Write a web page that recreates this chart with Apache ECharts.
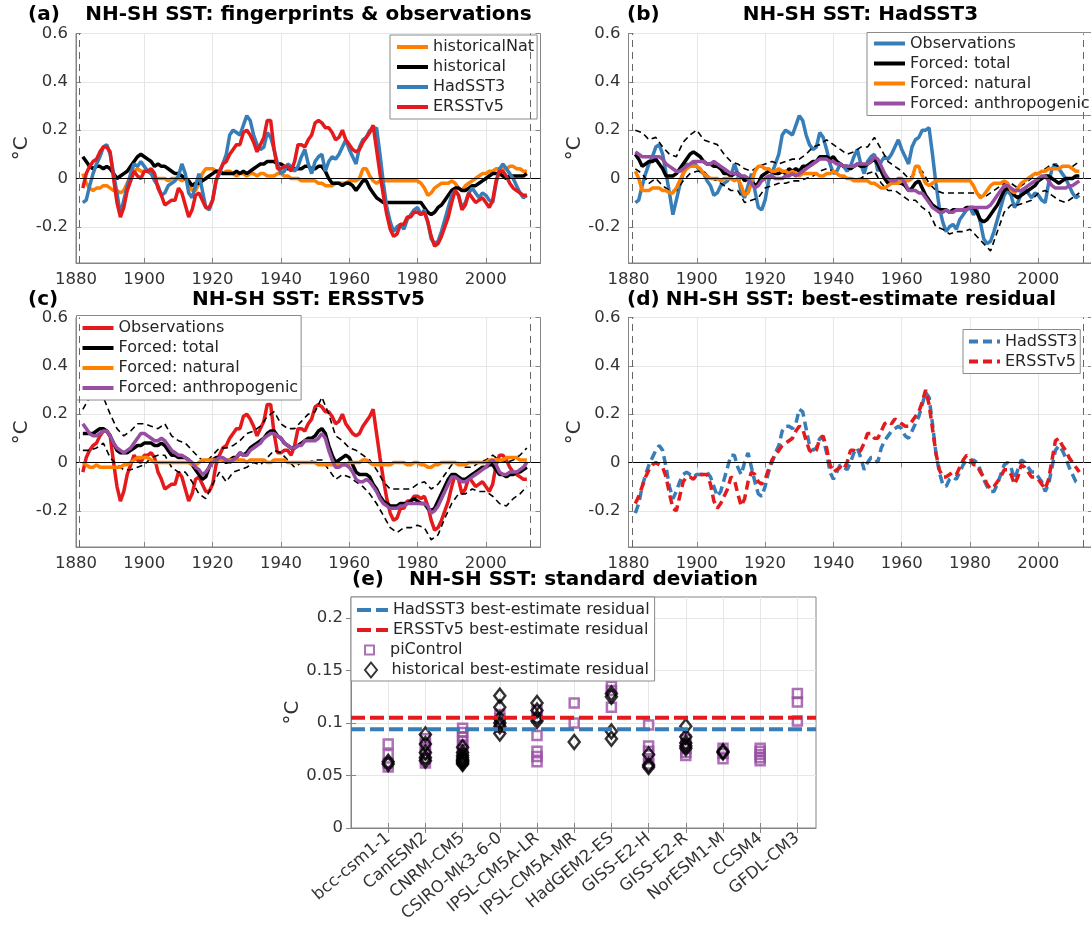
<!DOCTYPE html>
<html><head><meta charset="utf-8">
<script src="https://cdn.jsdelivr.net/npm/echarts@6/dist/echarts.min.js"></script>
<style>html,body{margin:0;padding:0;background:#fff}#c{width:1091px;height:938px}</style>
</head><body><div id="c"></div>
<script>
// ---------------- data ----------------
const START_YEAR = 1882;            // annual series start (1882..2012)
const yearTicks = [1880, 1900, 1920, 1940, 1960, 1980, 2000];
const tempTicks = [-0.2, 0, 0.2, 0.4, 0.6];
const stdTicks = [0, 0.05, 0.1, 0.15, 0.2];
const periodStart = 1881, periodEnd = 2013;

// (a) fingerprints & observations
const hadSST3 = [
 -0.10,-0.09,-0.03,0.02,0.06,0.09,0.13,0.14,
 0.10,0.02,-0.06,-0.15,-0.09,-0.03,0.02,0.06,0.05,0.07,
 0.05,0.03,0.02,-0.01,-0.03,-0.07,-0.06,-0.03,-0.02,-0.01,
 0.01,0.06,0.02,-0.06,-0.08,-0.03,0.02,-0.05,-0.12,-0.13,
 -0.09,-0.01,0.02,0.06,0.10,0.18,0.20,0.19,0.18,0.22,
 0.26,0.24,0.18,0.14,0.12,0.13,0.19,0.17,0.12,0.06,
 0.02,0.03,0.06,0.05,0.03,0.05,0.09,0.12,0.06,0.02,
 0.07,0.09,0.10,0.03,0.07,0.09,0.08,0.10,0.13,0.16,
 0.12,0.09,0.06,0.13,0.16,0.17,0.20,0.20,0.21,0.10,
 -0.02,-0.12,-0.18,-0.22,-0.20,-0.19,-0.21,-0.17,-0.15,-0.13,
 -0.12,-0.15,-0.13,-0.18,-0.25,-0.27,-0.26,-0.22,-0.17,-0.12,
 -0.07,-0.05,-0.07,-0.12,-0.10,-0.06,-0.04,-0.06,-0.08,-0.06,
 -0.07,-0.09,-0.10,-0.02,0.04,0.06,0.04,0.02,0.00,-0.03,
 -0.06,-0.08,-0.07];
const ersstV5 = [
 -0.04,0.02,0.05,0.07,0.08,0.11,0.13,0.13,
 0.11,0.00,-0.10,-0.16,-0.12,-0.05,-0.01,0.03,0.01,0.00,
 0.03,0.03,0.04,0.02,-0.04,-0.07,-0.11,-0.10,-0.09,-0.09,
 -0.04,-0.06,-0.11,-0.16,-0.13,-0.07,-0.06,-0.09,-0.12,-0.12,
 -0.09,-0.01,0.03,0.06,0.07,0.10,0.12,0.14,0.14,0.19,
 0.20,0.18,0.15,0.11,0.14,0.17,0.24,0.24,0.12,0.04,
 0.04,0.05,0.05,0.03,0.07,0.14,0.14,0.13,0.16,0.18,
 0.23,0.24,0.23,0.21,0.21,0.19,0.16,0.17,0.20,0.16,
 0.14,0.12,0.11,0.12,0.15,0.17,0.19,0.22,0.12,0.02,
 -0.07,-0.15,-0.21,-0.24,-0.23,-0.19,-0.19,-0.16,-0.16,-0.14,
 -0.14,-0.15,-0.14,-0.18,-0.24,-0.28,-0.27,-0.24,-0.20,-0.16,
 -0.10,-0.05,-0.07,-0.13,-0.11,-0.06,-0.08,-0.10,-0.09,-0.08,
 -0.10,-0.12,-0.09,-0.01,0.03,0.03,0.01,-0.02,-0.04,-0.05,
 -0.06,-0.07,-0.07];
const historical = [
 0.09,0.07,0.05,0.04,0.05,0.05,0.04,0.05,
 0.04,0.02,0.00,0.01,0.02,0.03,0.05,0.07,0.09,0.10,
 0.09,0.08,0.07,0.05,0.06,0.05,0.05,0.04,0.03,0.02,
 0.02,0.01,0.00,-0.01,-0.03,-0.02,-0.02,-0.01,0.00,0.01,
 0.02,0.03,0.03,0.02,0.02,0.02,0.02,0.03,0.02,0.03,
 0.02,0.03,0.04,0.05,0.06,0.06,0.07,0.07,0.07,0.06,
 0.06,0.05,0.04,0.04,0.04,0.04,0.04,0.05,0.05,0.04,
 0.04,0.05,0.05,0.03,0.00,-0.02,-0.02,-0.02,-0.03,-0.02,
 -0.02,-0.03,-0.05,-0.03,-0.01,-0.01,-0.04,-0.06,-0.08,-0.09,
 -0.10,-0.10,-0.10,-0.10,-0.10,-0.10,-0.10,-0.10,-0.10,-0.10,
 -0.10,-0.10,-0.12,-0.14,-0.15,-0.14,-0.12,-0.11,-0.09,-0.07,
 -0.05,-0.04,-0.04,-0.05,-0.05,-0.04,-0.03,-0.03,-0.02,-0.01,
 0.00,0.01,0.02,0.02,0.02,0.01,0.00,0.01,0.01,0.01,
 0.01,0.01,0.02];
const historicalNat = [
 0.02,-0.02,-0.04,-0.05,-0.04,-0.04,-0.03,-0.03,
 -0.04,-0.05,-0.05,-0.06,-0.05,-0.02,0.01,0.03,0.04,0.03,
 0.03,0.03,0.02,0.00,0.00,0.00,0.00,-0.01,0.00,0.00,
 0.00,-0.01,0.00,-0.02,-0.05,-0.05,-0.02,0.02,0.04,0.04,
 0.04,0.03,0.02,0.02,0.03,0.03,0.02,0.01,0.02,0.02,
 0.01,0.02,0.02,0.01,0.02,0.02,0.01,0.01,0.01,0.02,
 0.02,0.01,0.01,0.00,0.00,0.00,-0.01,-0.01,-0.01,-0.01,
 -0.01,-0.02,-0.02,-0.03,-0.03,-0.03,-0.02,-0.02,-0.02,-0.02,
 -0.01,-0.01,-0.01,0.00,0.04,0.04,0.01,-0.01,-0.02,-0.01,
 -0.01,-0.01,-0.01,-0.01,-0.01,-0.01,-0.01,-0.01,-0.01,-0.01,
 -0.01,-0.02,-0.04,-0.07,-0.06,-0.04,-0.03,-0.02,-0.02,-0.02,
 -0.01,-0.02,-0.04,-0.05,-0.03,-0.02,-0.01,0.00,0.01,0.02,
 0.02,0.03,0.03,0.04,0.04,0.04,0.04,0.05,0.05,0.04,
 0.04,0.03,0.03];

// (b) HadSST3 decomposition
const hadForcedTotal = [
 0.10,0.08,0.05,0.06,0.07,0.07,0.08,0.06,
 0.04,0.01,0.01,0.01,0.02,0.04,0.06,0.08,0.10,0.11,
 0.10,0.09,0.07,0.06,0.06,0.05,0.05,0.04,0.02,0.02,
 0.01,0.02,0.02,0.01,-0.01,0.00,-0.01,-0.03,-0.02,0.01,
 0.02,0.03,0.03,0.02,0.02,0.03,0.02,0.04,0.03,0.04,
 0.03,0.05,0.05,0.06,0.07,0.07,0.09,0.09,0.09,0.08,
 0.09,0.07,0.06,0.05,0.05,0.04,0.05,0.06,0.05,0.05,
 0.06,0.07,0.08,0.06,0.03,0.00,-0.02,-0.02,-0.02,-0.02,
 -0.02,-0.03,-0.05,-0.04,-0.02,-0.01,-0.04,-0.07,-0.09,-0.11,
 -0.12,-0.13,-0.13,-0.13,-0.14,-0.13,-0.13,-0.13,-0.13,-0.12,
 -0.12,-0.12,-0.14,-0.17,-0.18,-0.17,-0.15,-0.13,-0.11,-0.08,
 -0.05,-0.04,-0.05,-0.07,-0.08,-0.07,-0.06,-0.05,-0.04,-0.03,
 -0.01,0.00,0.01,0.01,0.00,-0.01,-0.02,-0.01,0.00,0.00,
 0.00,0.01,0.01];
const hadForcedNatural = [
 0.03,0.00,-0.05,-0.05,-0.05,-0.04,-0.04,-0.04,
 -0.05,-0.05,-0.06,-0.06,-0.04,-0.01,0.02,0.04,0.05,0.05,
 0.05,0.04,0.02,0.01,0.00,0.00,0.00,-0.01,0.00,0.00,
 0.00,-0.01,0.00,-0.03,-0.07,-0.06,-0.02,0.03,0.05,0.05,
 0.04,0.04,0.03,0.03,0.04,0.03,0.03,0.02,0.03,0.02,
 0.01,0.02,0.02,0.02,0.02,0.02,0.01,0.01,0.02,0.02,
 0.03,0.02,0.01,0.01,0.00,0.00,-0.01,-0.01,-0.01,-0.01,
 -0.01,-0.02,-0.02,-0.03,-0.04,-0.04,-0.03,-0.02,-0.02,-0.02,
 -0.01,-0.01,-0.01,0.00,0.05,0.05,0.01,-0.02,-0.03,-0.02,
 -0.01,-0.01,-0.01,-0.01,-0.01,-0.01,-0.01,-0.01,-0.01,-0.01,
 -0.01,-0.03,-0.06,-0.08,-0.07,-0.05,-0.03,-0.02,-0.02,-0.02,
 -0.01,-0.02,-0.05,-0.06,-0.04,-0.02,-0.01,0.00,0.01,0.02,
 0.02,0.03,0.03,0.04,0.04,0.04,0.04,0.05,0.05,0.05,
 0.04,0.03,0.03];
const hadForcedAnthro = [
 0.11,0.10,0.09,0.09,0.09,0.09,0.09,0.09,
 0.08,0.06,0.05,0.04,0.03,0.03,0.04,0.05,0.06,0.07,
 0.07,0.07,0.07,0.06,0.06,0.07,0.06,0.05,0.04,0.03,
 0.02,0.02,0.02,0.01,0.01,0.00,-0.02,-0.04,-0.03,-0.01,
 0.00,0.01,0.01,0.00,0.00,0.00,0.01,0.01,0.02,0.01,
 0.02,0.03,0.04,0.05,0.06,0.07,0.08,0.08,0.08,0.07,
 0.07,0.06,0.06,0.05,0.05,0.05,0.05,0.06,0.06,0.06,
 0.06,0.07,0.09,0.08,0.05,0.02,0.00,-0.01,-0.01,0.00,
 0.00,-0.02,-0.05,-0.05,-0.05,-0.06,-0.06,-0.08,-0.10,-0.12,
 -0.13,-0.14,-0.14,-0.13,-0.14,-0.14,-0.13,-0.13,-0.13,-0.13,
 -0.12,-0.12,-0.12,-0.12,-0.12,-0.12,-0.11,-0.09,-0.07,-0.05,
 -0.03,-0.03,-0.04,-0.05,-0.05,-0.05,-0.04,-0.03,-0.02,-0.01,
 0.00,0.01,0.01,-0.01,-0.03,-0.04,-0.04,-0.04,-0.04,-0.03,
 -0.03,-0.02,-0.01];
// uncertainty bounds, every second year from 1882
const hadTotalUpper = [
 0.20,0.19,0.16,0.17,0.13,0.10,0.09,0.15,0.18,
 0.20,0.16,0.15,0.14,0.10,0.07,0.06,0.04,0.03,0.05,
 0.06,0.07,0.06,0.07,0.08,0.08,0.10,0.13,0.14,0.16,
 0.14,0.12,0.10,0.11,0.13,0.13,0.17,0.12,0.07,0.05,
 0.03,0.00,0.02,0.03,-0.02,-0.05,-0.06,-0.06,-0.06,-0.06,
 -0.06,-0.06,-0.08,-0.06,-0.04,-0.02,-0.02,-0.04,-0.02,0.00,
 0.02,0.04,0.06,0.05,0.05,0.05,0.07];
const hadTotalLower = [
 0.04,0.02,-0.02,0.00,-0.03,-0.05,-0.05,-0.01,0.02,
 0.03,0.03,0.00,-0.01,-0.03,-0.05,-0.05,-0.10,-0.09,-0.08,
 -0.04,-0.03,-0.02,-0.02,-0.01,-0.01,0.00,0.01,0.03,0.04,
 0.03,0.01,0.00,0.00,0.00,0.02,0.03,-0.02,-0.05,-0.05,
 -0.07,-0.09,-0.09,-0.12,-0.14,-0.20,-0.21,-0.23,-0.22,-0.22,
 -0.21,-0.24,-0.27,-0.30,-0.22,-0.14,-0.11,-0.11,-0.10,-0.09,
 -0.06,-0.05,-0.07,-0.09,-0.10,-0.08,-0.06];

// (c) ERSSTv5 decomposition
const erForcedTotal = [
 0.12,0.12,0.12,0.12,0.13,0.14,0.14,0.13,
 0.11,0.08,0.05,0.04,0.04,0.04,0.05,0.06,0.07,0.07,
 0.08,0.08,0.08,0.07,0.07,0.08,0.07,0.05,0.03,0.03,
 0.02,0.02,0.02,0.01,-0.01,-0.03,-0.05,-0.07,-0.06,-0.02,
 0.01,0.02,0.02,0.01,0.00,0.01,0.02,0.02,0.04,0.03,
 0.04,0.06,0.07,0.08,0.09,0.10,0.12,0.13,0.13,0.11,
 0.10,0.08,0.07,0.06,0.06,0.07,0.08,0.09,0.10,0.10,
 0.11,0.13,0.14,0.12,0.07,0.03,0.00,0.01,0.02,0.03,
 0.02,-0.01,-0.04,-0.05,-0.05,-0.05,-0.06,-0.09,-0.11,-0.14,
 -0.16,-0.17,-0.18,-0.18,-0.18,-0.17,-0.17,-0.17,-0.16,-0.15,
 -0.16,-0.17,-0.17,-0.19,-0.20,-0.19,-0.16,-0.13,-0.10,-0.07,
 -0.05,-0.05,-0.06,-0.07,-0.07,-0.06,-0.05,-0.04,-0.03,-0.02,
 -0.02,-0.01,-0.01,-0.03,-0.05,-0.05,-0.06,-0.05,-0.05,-0.04,
 -0.04,-0.03,-0.02];
const erForcedNatural = [
 0.00,-0.01,-0.02,-0.02,-0.01,-0.02,-0.02,-0.02,
 -0.02,-0.02,-0.02,-0.02,-0.01,-0.01,0.00,0.01,0.02,0.02,
 0.02,0.02,0.01,0.00,0.00,0.00,0.00,0.00,0.00,0.00,
 0.00,0.00,0.00,0.00,-0.01,-0.01,0.00,0.01,0.01,0.01,
 0.01,0.01,0.01,0.01,0.01,0.01,0.01,0.01,0.01,0.01,
 0.00,0.01,0.01,0.01,0.01,0.01,0.00,0.00,0.01,0.01,
 0.01,0.01,0.00,0.00,0.00,0.00,0.00,0.00,0.00,0.00,
 0.00,-0.01,-0.01,-0.01,-0.01,-0.01,-0.01,-0.01,-0.01,-0.01,
 0.00,0.00,0.00,0.00,0.01,0.01,0.00,-0.01,-0.01,-0.01,
 -0.01,-0.01,-0.01,0.00,0.00,0.00,0.00,-0.01,-0.01,0.00,
 0.00,-0.01,-0.01,-0.02,-0.02,-0.01,-0.01,0.00,0.00,0.00,
 0.00,0.00,-0.01,-0.01,-0.01,0.00,0.00,0.00,0.00,0.00,
 0.00,0.01,0.01,0.01,0.01,0.01,0.02,0.02,0.02,0.02,
 0.01,0.01,0.01];
const erForcedAnthro = [
 0.16,0.14,0.12,0.11,0.11,0.12,0.13,0.13,
 0.11,0.08,0.06,0.05,0.04,0.05,0.06,0.08,0.10,0.12,
 0.12,0.11,0.10,0.09,0.09,0.10,0.09,0.07,0.05,0.04,
 0.03,0.03,0.02,0.01,0.00,-0.02,-0.03,-0.05,-0.04,-0.02,
 0.00,0.01,0.02,0.02,0.01,0.00,0.01,0.02,0.04,0.03,
 0.03,0.05,0.06,0.07,0.08,0.10,0.11,0.12,0.12,0.11,
 0.10,0.08,0.07,0.06,0.06,0.07,0.07,0.09,0.09,0.09,
 0.09,0.10,0.12,0.10,0.05,0.01,-0.02,-0.02,-0.01,-0.01,
 -0.02,-0.04,-0.07,-0.08,-0.08,-0.07,-0.08,-0.10,-0.12,-0.15,
 -0.17,-0.18,-0.19,-0.19,-0.19,-0.18,-0.18,-0.17,-0.17,-0.17,
 -0.17,-0.17,-0.17,-0.18,-0.21,-0.20,-0.18,-0.15,-0.12,-0.09,
 -0.06,-0.06,-0.07,-0.08,-0.08,-0.07,-0.06,-0.05,-0.04,-0.03,
 -0.02,0.00,0.01,-0.01,-0.04,-0.05,-0.05,-0.04,-0.04,-0.04,
 -0.03,-0.02,0.00];
const erTotalUpper = [
 0.22,0.27,0.27,0.27,0.20,0.14,0.11,0.13,0.16,
 0.16,0.15,0.14,0.16,0.11,0.09,0.08,0.05,0.02,0.00,
 0.03,0.06,0.06,0.07,0.09,0.12,0.13,0.15,0.19,0.21,
 0.16,0.14,0.14,0.17,0.20,0.21,0.27,0.20,0.11,0.09,
 0.06,0.05,0.03,0.01,-0.03,-0.08,-0.11,-0.11,-0.11,-0.11,
 -0.09,-0.08,-0.11,-0.09,-0.05,-0.01,0.00,-0.02,-0.02,0.00,
 0.01,0.03,0.01,0.00,0.01,0.03,0.06];
const erTotalLower = [
 0.05,0.05,0.06,0.08,0.02,-0.01,-0.03,-0.03,-0.02,
 -0.01,0.02,0.03,0.03,-0.02,-0.04,-0.04,-0.08,-0.13,-0.15,
 -0.09,-0.04,-0.08,-0.04,-0.03,-0.02,0.00,-0.01,0.02,0.05,
 0.04,0.01,-0.02,0.00,0.00,0.01,0.01,-0.03,-0.07,-0.05,
 -0.06,-0.08,-0.10,-0.13,-0.17,-0.22,-0.27,-0.29,-0.27,-0.27,
 -0.26,-0.27,-0.32,-0.30,-0.23,-0.17,-0.13,-0.13,-0.11,-0.12,
 -0.12,-0.14,-0.17,-0.18,-0.15,-0.13,-0.10];

// (d) best-estimate residuals
const hadResidual = [
 -0.21,-0.17,-0.10,-0.05,-0.01,0.02,0.05,0.07,
 0.05,-0.02,-0.10,-0.15,-0.12,-0.08,-0.05,-0.04,-0.05,-0.06,
 -0.05,-0.05,-0.05,-0.04,-0.06,-0.10,-0.14,-0.12,-0.07,-0.02,
 0.03,0.03,-0.02,-0.05,0.00,0.04,-0.02,-0.08,-0.13,-0.14,
 -0.10,-0.04,0.00,0.04,0.07,0.13,0.15,0.15,0.14,0.16,
 0.22,0.21,0.14,0.07,0.05,0.06,0.10,0.10,0.04,-0.04,
 -0.07,-0.04,-0.01,-0.02,-0.03,0.00,0.04,0.06,0.02,-0.03,
 0.00,0.02,0.02,0.00,0.06,0.09,0.11,0.13,0.14,0.15,
 0.14,0.11,0.10,0.13,0.16,0.19,0.24,0.29,0.27,0.16,
 0.04,-0.04,-0.09,-0.10,-0.07,-0.06,-0.07,-0.04,-0.01,0.01,
 0.00,0.01,0.00,-0.03,-0.07,-0.10,-0.12,-0.12,-0.09,-0.05,
 -0.01,0.00,-0.02,-0.07,-0.03,0.01,0.00,-0.02,-0.04,-0.04,
 -0.06,-0.08,-0.12,-0.09,-0.02,0.05,0.07,0.05,0.02,-0.02,
 -0.05,-0.08,-0.09];
const ersstResidual = [
 -0.17,-0.14,-0.10,-0.06,-0.03,-0.01,0.00,-0.01,
 -0.02,-0.06,-0.13,-0.19,-0.20,-0.14,-0.08,-0.06,-0.06,-0.07,
 -0.05,-0.05,-0.05,-0.05,-0.09,-0.16,-0.19,-0.17,-0.14,-0.11,
 -0.06,-0.07,-0.13,-0.18,-0.15,-0.08,-0.04,-0.05,-0.08,-0.09,
 -0.07,-0.03,0.01,0.03,0.05,0.07,0.08,0.09,0.10,0.13,
 0.15,0.14,0.09,0.05,0.04,0.05,0.10,0.11,0.06,-0.01,
 -0.04,-0.03,-0.02,-0.03,0.00,0.05,0.05,0.04,0.05,0.08,
 0.12,0.12,0.10,0.10,0.13,0.16,0.17,0.16,0.18,0.17,
 0.16,0.15,0.15,0.17,0.19,0.21,0.25,0.30,0.24,0.14,
 0.04,-0.03,-0.06,-0.06,-0.05,-0.04,-0.05,-0.02,0.01,0.03,
 0.02,-0.01,-0.01,-0.04,-0.06,-0.09,-0.11,-0.10,-0.08,-0.06,
 -0.03,-0.03,-0.05,-0.09,-0.06,-0.01,-0.02,-0.04,-0.06,-0.06,
 -0.07,-0.09,-0.11,-0.07,0.01,0.09,0.10,0.07,0.05,0.02,
 0.00,-0.02,-0.04];

// (e) standard deviations
const models = ['bcc-csm1-1','CanESM2','CNRM-CM5','CSIRO-Mk3-6-0','IPSL-CM5A-LR','IPSL-CM5A-MR',
                'HadGEM2-ES','GISS-E2-H','GISS-E2-R','NorESM1-M','CCSM4','GFDL-CM3'];
const hadResidualStd = 0.094;
const ersstResidualStd = 0.105;
const piControlStd = [
 [0.080,0.070,0.062,0.058],
 [0.085,0.080,0.075,0.070,0.066,0.062],
 [0.095,0.091,0.087,0.083,0.079,0.075,0.071,0.067,0.064],
 [0.108,0.104,0.100,0.096],
 [0.112,0.105,0.088,0.073,0.068,0.063],
 [0.119,0.100],
 [0.135,0.131,0.115],
 [0.098,0.078,0.073,0.066,0.061],
 [0.084,0.080,0.076,0.072,0.069],
 [0.076,0.071,0.066],
 [0.076,0.073,0.070,0.067,0.064],
 [0.128,0.120,0.102]];
const historicalResidualStd = [
 [0.063,0.061],
 [0.089,0.080,0.072,0.067,0.064],
 [0.077,0.072,0.069,0.067,0.065,0.064,0.063,0.062,0.061],
 [0.126,0.115,0.104,0.100,0.097,0.090],
 [0.119,0.112,0.105,0.102],
 [0.082],
 [0.128,0.125,0.092,0.085],
 [0.070,0.060,0.058],
 [0.097,0.087,0.081,0.078,0.076],
 [0.073,0.072],
 [],
 []];

// ---------------- styling & build ----------------
const FONT = 'DejaVu Sans';
const FRAME = '#858585';
const GRIDC = '#e6e6e6';
const TXT = '#333333';
const C = {blue:'#377eb8', red:'#e41a1c', black:'#000000', orange:'#ff7f00', purple:'#984ea3'};
const LW = 3.5;
const E_DASH = [14, 5];
const TICK_FS = 16.5;

const ann = arr => arr.map((v, i) => [START_YEAR + i, v]);
const bi = arr => arr.map((v, i) => [START_YEAR + 2 * i, v]);
const stripName = n => n.split('|')[1];
const numLabel = v => String(Math.round(v * 100) / 100);

function baseAxis(gi, min, max, ticks, extra) {
  return Object.assign({type:'value', gridIndex:gi, min:min, max:max,
    axisLine:{show:true, onZero:false, lineStyle:{color:FRAME}},
    axisTick:{show:true, inside:true, length:5, customValues:ticks, lineStyle:{color:FRAME}},
    axisLabel:{customValues:ticks, color:TXT, fontSize:TICK_FS, fontFamily:FONT, margin:8, formatter:numLabel},
    splitLine:{show:true, lineStyle:{color:GRIDC}}}, extra || {});
}
// mirrored (box) axes: ticks only, on top / right
function mirrorAxis(gi, min, max, ticks, pos) {
  return {type:'value', gridIndex:gi, min:min, max:max, position:pos,
    axisLine:{show:false}, axisLabel:{show:false}, splitLine:{show:false},
    axisTick:{show:true, inside:true, length:5, customValues:ticks, lineStyle:{color:FRAME}}};
}
const yName = {name:'°C', nameLocation:'middle', nameGap:44,
  nameTextStyle:{fontSize:20, color:TXT, fontFamily:FONT}};

function refLines() {
  return {silent:true, symbol:'none', animation:false, label:{show:false},
    data:[
      {yAxis:0, lineStyle:{color:'#000', width:1, type:'solid'}},
      {xAxis:periodStart, lineStyle:{color:'#666', width:1, type:[7,5]}},
      {xAxis:periodEnd, lineStyle:{color:'#666', width:1, type:[7,5]}}
    ]};
}
function line(name, gi, data, color, extra) {
  return Object.assign({type:'line', name:name, xAxisIndex:gi, yAxisIndex:gi, data:data,
    symbol:'none', showSymbol:false, animation:false, silent:true,
    lineStyle:{color:color, width:LW}, itemStyle:{color:color}}, extra || {});
}
function bound(name, gi, data) {
  return line(name, gi, data, '#000', {lineStyle:{color:'#000', width:1.6, type:[6,4]}});
}
function legend(left, top, names, pad, opts) {
  return Object.assign({orient:'vertical', left:left, top:top, padding:pad,
    data:names.map(n => typeof n === 'string' ? {name:n, itemStyle:{opacity:0}} : n),
    formatter:stripName, symbolKeepAspect:true,
    itemWidth:31, itemHeight:14, itemGap:0, selectedMode:false,
    backgroundColor:'#ffffff', borderColor:'#8a8a8a', borderWidth:1, borderRadius:0,
    lineStyle:{width:4},
    textStyle:{fontSize:16, lineHeight:20, color:'#262626', fontFamily:FONT}}, opts || {});
}
function ttl(text, cx, top, align) {
  return {text:text, left:cx, top:top, textAlign:align || 'center', textVerticalAlign:'top', padding:0,
    textStyle:{fontSize:20, fontWeight:'bold', color:'#000', fontFamily:FONT, lineHeight:24}};
}

const gridBase = {show:true, borderColor:FRAME, borderWidth:1, backgroundColor:'rgba(0,0,0,0)',
  containLabel:false, outerBoundsMode:'none'};
const grids = [
  Object.assign({left:76, top:33.5, width:464.5, height:229.5}, gridBase),
  Object.assign({left:628.5, top:33.5, width:464.5, height:229.5}, gridBase),
  Object.assign({left:76, top:317.5, width:464.5, height:229.5}, gridBase),
  Object.assign({left:628.5, top:317.5, width:464.5, height:229.5}, gridBase),
  Object.assign({left:351, top:597, width:465, height:231}, gridBase)
];

const catTicks = models.map((m, i) => i + 1);
const xAxes = [0, 1, 2, 3].map(g => baseAxis(g, 1880, 2016, yearTicks,
  {axisLabel:{customValues:yearTicks, color:TXT, fontSize:TICK_FS, fontFamily:FONT, margin:8, formatter: v => String(v)}}));
xAxes.push(baseAxis(4, 0, 12.5, catTicks,
  {axisLabel:{customValues:catTicks, formatter: v => models[Math.round(v) - 1] || '', rotate:40,
    color:TXT, fontSize:TICK_FS, fontFamily:FONT, margin:8}}));
[0, 1, 2, 3].forEach(g => xAxes.push(mirrorAxis(g, 1880, 2016, yearTicks, 'top')));
xAxes.push(mirrorAxis(4, 0, 12.5, catTicks, 'top'));

const yAxes = [0, 1, 2, 3].map(g => baseAxis(g, -0.35, 0.6, tempTicks, yName));
yAxes.push(baseAxis(4, 0, 0.22, stdTicks, yName));
[0, 1, 2, 3].forEach(g => yAxes.push(mirrorAxis(g, -0.35, 0.6, tempTicks, 'right')));
yAxes.push(mirrorAxis(4, 0, 0.22, stdTicks, 'right'));

const piPoints = [], histPoints = [];
piControlStd.forEach((vals, i) => vals.forEach(v => piPoints.push([i + 1, v])));
historicalResidualStd.forEach((vals, i) => vals.forEach(v => histPoints.push([i + 1, v])));
const eRange = [0, 12.5];

const series = [
  // (a)
  line('a|historicalNat', 0, ann(historicalNat), C.orange, {markLine:refLines()}),
  line('a|historical', 0, ann(historical), C.black),
  line('a|HadSST3', 0, ann(hadSST3), C.blue),
  line('a|ERSSTv5', 0, ann(ersstV5), C.red),
  // (b)
  line('b|Observations', 1, ann(hadSST3), C.blue, {markLine:refLines()}),
  bound('b|upper', 1, bi(hadTotalUpper)),
  bound('b|lower', 1, bi(hadTotalLower)),
  line('b|Forced: total', 1, ann(hadForcedTotal), C.black),
  line('b|Forced: natural', 1, ann(hadForcedNatural), C.orange),
  line('b|Forced: anthropogenic', 1, ann(hadForcedAnthro), C.purple),
  // (c)
  line('c|Observations', 2, ann(ersstV5), C.red, {markLine:refLines()}),
  bound('c|upper', 2, bi(erTotalUpper)),
  bound('c|lower', 2, bi(erTotalLower)),
  line('c|Forced: total', 2, ann(erForcedTotal), C.black),
  line('c|Forced: natural', 2, ann(erForcedNatural), C.orange),
  line('c|Forced: anthropogenic', 2, ann(erForcedAnthro), C.purple),
  // (d)
  line('d|HadSST3', 3, ann(hadResidual), C.blue, {markLine:refLines(), lineStyle:{color:C.blue, width:LW, type:[9,5]}}),
  line('d|ERSSTv5', 3, ann(ersstResidual), C.red, {lineStyle:{color:C.red, width:LW, type:[9,5]}}),
  // (e)
  line('e|HadSST3 best-estimate residual', 4, eRange.map(x => [x, hadResidualStd]), C.blue,
    {lineStyle:{color:C.blue, width:4, type:E_DASH}}),
  line('e|ERSSTv5 best-estimate residual', 4, eRange.map(x => [x, ersstResidualStd]), C.red,
    {lineStyle:{color:C.red, width:4, type:E_DASH}}),
  {type:'scatter', name:'e|piControl', xAxisIndex:4, yAxisIndex:4, data:piPoints, symbol:'rect', symbolSize:9,
    animation:false, silent:true,
    itemStyle:{color:'rgba(255,255,255,0)', borderColor:C.purple, borderWidth:2.5}},
  {type:'scatter', name:'e|historical best-estimate residual', xAxisIndex:4, yAxisIndex:4, data:histPoints,
    symbol:'diamond', symbolSize:[11,14], animation:false, silent:true,
    itemStyle:{color:'rgba(255,255,255,0)', borderColor:'#000', borderWidth:2.5}}
];

const plain = {backgroundColor:'rgba(0,0,0,0)', borderWidth:0, z:6};
const option = {
  backgroundColor:'#ffffff',
  animation:false,
  textStyle:{fontFamily:FONT},
  title:[
    ttl('(a)', 28, 3, 'left'), ttl('NH-SH SST: fingerprints & observations', 308.5, 3),
    ttl('(b)', 627, 3, 'left'), ttl('NH-SH SST: HadSST3', 860.5, 3),
    ttl('(c)', 28, 288, 'left'), ttl('NH-SH SST: ERSSTv5', 308.5, 288),
    ttl('(d)', 627, 288, 'left'), ttl('NH-SH SST: best-estimate residual', 861, 288),
    ttl('(e)', 352, 568, 'left'), ttl('NH-SH SST: standard deviation', 583.5, 568)
  ],
  legend:[
    legend(390, 35, ['a|historicalNat','a|historical','a|HadSST3','a|ERSSTv5'], [2,3,2,5]),
    legend(867, 32.5, ['b|Observations','b|Forced: total','b|Forced: natural','b|Forced: anthropogenic'], [1,3,2,5]),
    legend(76.5, 315.5, ['c|Observations','c|Forced: total','c|Forced: natural','c|Forced: anthropogenic'], [2.5,3,2,4]),
    legend(963, 329.5, ['d|HadSST3','d|ERSSTv5'], [2,3,2,4]),
    // (e): framed box holding the two residual lines, marker entries placed inside it
    legend(351, 597, ['e|HadSST3 best-estimate residual','e|ERSSTv5 best-estimate residual'], [3,5,41,4], {itemHeight:11}),
    legend(364, 640, [{name:'e|piControl', icon:'path://M0,0L9,0L9,9L0,9Z'}], 0, Object.assign({itemHeight:9}, plain)),
    legend(364, 660, [{name:'e|historical best-estimate residual', icon:'path://M6,0L12,7.5L6,15L0,7.5Z'}], 0,
      Object.assign({itemHeight:15}, plain))
  ],
  grid: grids,
  xAxis: xAxes,
  yAxis: yAxes,
  series: series
};

const chart = echarts.init(document.getElementById('c'), null, {renderer:'canvas'});
chart.setOption(option);
</script>
</body></html>
